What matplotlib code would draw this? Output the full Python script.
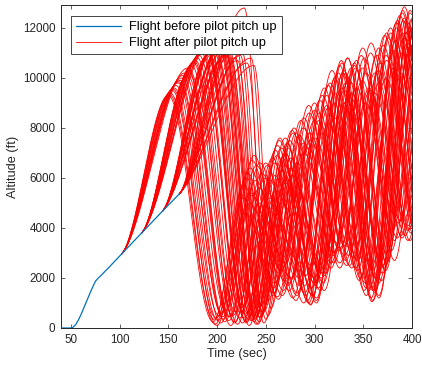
import numpy as np
import matplotlib
matplotlib.use("Agg")
import matplotlib.pyplot as plt

# ---------------- data ----------------
# flight before pilot pitch up (blue)
blue_t = [40, 50, 52, 55, 58, 61, 64, 67, 70, 73, 75.5, 78, 82, 90, 102.4, 122.7, 144, 161.5]
blue_alt = [0, 0, 20, 130, 330, 580, 860, 1140, 1420, 1680, 1880, 1990, 2140, 2460, 2970, 3800, 4670, 5370]

# flight after pilot pitch up (red): one row per trajectory
# columns: branch time, 1st peak time, 1st peak alt, 1st trough time, 1st trough alt,
#          half period, then later extrema altitudes (peak, trough, peak, trough, peak, trough, peak, trough)
group1 = [
    [102.4, 150, 9300, 196, 250, 31.0, 5200, 1400, 8400, 2600, 10800, 3500, 12800, 5000],
    [102.4, 151, 9350, 197, 350, 30.5, 5700, 1600, 8000, 2900, 10400, 3900, 12300, 5000],
    [102.4, 152, 9400, 198, 150, 32.0, 6000, 1250, 8900, 2400, 11400, 3600, 13000, 5000],
    [102.4, 154, 9500, 199, 400, 30.0, 4600, 1800, 7400, 3000, 9900, 4000, 12000, 5500],
    [102.4, 155, 9550, 200, 100, 31.5, 6200, 1150, 8600, 2600, 11000, 3700, 12800, 5000],
    [102.4, 156, 9600, 201, 300, 33.0, 6400, 1300, 8700, 2500, 11200, 3800, 12600, 5000],
    [102.4, 158, 9700, 202, 500, 31.0, 5000, 2200, 7800, 3100, 9500, 4300, 11500, 5500],
    [102.4, 160, 9800, 204, 200, 32.0, 6700, 1500, 9000, 2700, 10900, 3500, 12800, 5000],
    [102.4, 161, 9850, 206, 450, 30.0, 5300, 2300, 7500, 3200, 9600, 4200, 11200, 5000],
    [102.4, 162, 9900, 205, 600, 29.5, 5400, 2500, 7200, 3400, 9000, 4600, 10800, 5500],
    [102.4, 164, 10000, 207, 350, 31.0, 6900, 1900, 8300, 2900, 10200, 3700, 12000, 5000],
    [102.4, 165, 10100, 208, 250, 32.5, 6500, 1700, 9100, 2400, 11300, 3600, 13000, 5000],
    [102.4, 167, 10200, 209, 700, 30.5, 5900, 2600, 7600, 3300, 9400, 4400, 10500, 5500],
    [102.4, 170, 10400, 212, 450, 32.0, 6600, 2000, 9300, 2800, 11700, 3900, 13000, 5000],
]
group2 = [
    [122.7, 170, 10100, 212, 300, 31.0, 5000, 1500, 8600, 2500, 10600, 3500, 12500, 5000],
    [122.7, 171, 10200, 213, 450, 30.5, 5600, 1800, 8300, 2900, 10300, 3900, 12200, 5000],
    [122.7, 172, 10300, 214, 100, 32.0, 6200, 1200, 9600, 2400, 11800, 3600, 13000, 5000],
    [122.7, 174, 10500, 216, 500, 30.0, 4500, 2000, 7800, 3200, 9800, 4100, 11500, 5000],
    [122.7, 176, 10600, 218, 250, 31.5, 6000, 1100, 9300, 2300, 11600, 3800, 13000, 5000],
    [122.7, 177, 10650, 218, 200, 32.0, 6600, 1300, 9700, 1900, 12000, 3600, 13000, 5000],
    [122.7, 178, 10700, 219, 650, 33.0, 5400, 1700, 10300, 1500, 12200, 4000, 13000, 5000],
    [122.7, 180, 10800, 221, 150, 30.5, 6500, 1400, 8900, 2800, 10900, 3700, 12000, 5000],
    [122.7, 182, 10900, 223, 400, 31.0, 5200, 2300, 9800, 2000, 11800, 4000, 13000, 5000],
    [122.7, 184, 11000, 225, 800, 32.0, 6800, 1000, 10000, 1300, 12300, 3500, 13000, 5000],
    [122.7, 185, 11050, 224, 600, 30.0, 5900, 2000, 8800, 2700, 10700, 4200, 12000, 5000],
    [122.7, 186, 11100, 226, 200, 29.5, 4800, 2600, 8200, 3400, 10000, 4500, 11500, 5000],
    [122.7, 189, 11200, 229, 550, 31.0, 7100, 1300, 10100, 1600, 12000, 3700, 13000, 5000],
    [122.7, 190, 11250, 230, 250, 31.5, 6900, 1100, 10200, 1500, 12500, 3700, 13000, 5000],
    [122.7, 192, 11300, 232, 350, 32.0, 7500, 950, 10600, 1100, 12850, 3500, 13000, 5000],
]
group3 = [
    [144.0, 190, 10900, 228, 400, 31.0, 6600, 1400, 9400, 1800, 11500, 3500, 13000, 5000],
    [144.0, 191, 10950, 229, 300, 30.5, 6100, 1700, 9000, 2000, 11100, 3800, 12800, 5000],
    [144.0, 192, 11000, 230, 200, 32.0, 7300, 1000, 10500, 1200, 12600, 3500, 13000, 5000],
    [144.0, 194, 11100, 231, 600, 30.0, 5500, 2100, 8400, 2600, 10400, 4000, 12000, 5000],
    [144.0, 196, 11200, 233, 100, 31.5, 7600, 920, 10700, 1050, 12700, 3600, 13000, 5000],
    [144.0, 197, 11250, 234, 500, 32.0, 7200, 1300, 10300, 1500, 12300, 3800, 13000, 5000],
    [144.0, 198, 11300, 235, 300, 31.0, 6300, 1600, 9600, 1600, 11800, 4000, 13000, 5000],
    [144.0, 200, 11000, 236, 700, 30.5, 5000, 2500, 8000, 2400, 10200, 4200, 12000, 5000],
    [144.0, 202, 11200, 238, 250, 32.0, 7000, 1200, 10800, 1300, 12700, 3500, 13000, 5000],
    [144.0, 203, 11150, 239, 350, 30.5, 6500, 1800, 9500, 2100, 11600, 4000, 13000, 5000],
    [144.0, 204, 11300, 240, 500, 31.0, 6000, 1900, 9100, 1900, 11400, 4000, 13000, 5000],
    [144.0, 206, 11100, 242, 150, 30.0, 7400, 1100, 10200, 1400, 12400, 3500, 13000, 5000],
    [144.0, 209, 10900, 244, 450, 31.5, 5600, 2200, 8700, 2200, 10800, 4000, 12000, 5000],
    [144.0, 210, 10950, 245, 550, 31.0, 6800, 2000, 9800, 2400, 12000, 4200, 13000, 5000],
    [144.0, 212, 11000, 246, 650, 32.0, 7800, 1500, 10400, 2600, 12800, 4000, 13000, 5000],
]
group4 = [
    [161.5, 203, 11500, 236, 300, 31.0, 6800, 1300, 10200, 1500, 12300, 3500, 13000, 5000],
    [161.5, 206, 11800, 238, 500, 32.0, 7600, 1000, 10800, 1200, 12600, 3500, 13000, 5000],
    [161.5, 207, 11300, 239, 400, 31.0, 7000, 1700, 9800, 2000, 11800, 4000, 13000, 5000],
    [161.5, 209, 11000, 240, 150, 30.0, 5800, 2000, 9000, 2300, 11000, 4000, 12500, 5000],
    [161.5, 212, 10900, 242, 700, 31.0, 7200, 1600, 10000, 1800, 12000, 4000, 13000, 5000],
    [161.5, 213, 11100, 243, 250, 31.5, 7500, 1500, 10400, 1900, 12400, 4000, 13000, 5000],
    [161.5, 215, 11600, 244, 400, 31.5, 6400, 2300, 9400, 2500, 11700, 4000, 13000, 5000],
    [161.5, 218, 10800, 245, 900, 32.0, 7900, 1800, 10600, 2300, 12500, 4000, 13000, 5000],
    [161.5, 219, 11400, 246, 650, 30.5, 6300, 2400, 9200, 2700, 11300, 4300, 13000, 5000],
    [161.5, 221, 10700, 247, 600, 30.0, 6100, 2600, 8800, 2900, 11000, 4500, 12500, 5000],
    [161.5, 224, 10900, 248, 200, 31.0, 8000, 2100, 10500, 2400, 12600, 4000, 13000, 5000],
    [161.5, 226, 11000, 250, 350, 31.0, 7800, 2200, 10700, 2600, 12700, 4200, 13000, 5000],
    [161.5, 228, 12800, 252, 500, 32.5, 7700, 2400, 11200, 2700, 13000, 4500, 13000, 5000],
    [161.5, 231, 10600, 252, 1100, 30.5, 6600, 2800, 9600, 3000, 11800, 4500, 13000, 5000],
    [161.5, 235, 10800, 255, 800, 31.0, 8300, 2600, 10900, 3100, 13000, 4500, 13000, 5000],
    [161.5, 238, 10500, 257, 1300, 32.0, 7000, 3000, 10200, 3600, 12500, 4500, 13000, 5000],
]
red_rows = group1 + group2 + group3 + group4

T_END = 400.0
legend_labels = ["Flight before pilot pitch up", "Flight after pilot pitch up"]

# ---------------- curve construction ----------------
bt = np.array(blue_t, float)
ba = np.array(blue_alt, float)
climb_rate = (ba[-1] - ba[-4]) / (bt[-1] - bt[-4])


def hermite(t, t0, t1, y0, y1, m0, m1):
    d = t1 - t0
    s = (t - t0) / d
    h00 = 2 * s**3 - 3 * s**2 + 1
    h10 = s**3 - 2 * s**2 + s
    h01 = -2 * s**3 + 3 * s**2
    h11 = s**3 - s**2
    return h00 * y0 + h10 * d * m0 + h01 * y1 + h11 * d * m1


def trajectory(row):
    t0, tp1, hp1, tt1, lt1, half = row[:6]
    later = row[6:]
    a0 = float(np.interp(t0, bt, ba))
    ts, ys = [], []
    t = np.linspace(t0, tp1, 120)
    ts.append(t); ys.append(hermite(t, t0, tp1, a0, hp1, climb_rate, 0.0))
    knots_t = [tp1, tt1]
    knots_y = [hp1, lt1]
    for k, v in enumerate(later):
        knots_t.append(tt1 + (k + 1) * half)
        knots_y.append(v)
    for i in range(len(knots_t) - 1):
        ta, tb = knots_t[i], knots_t[i + 1]
        if ta >= T_END:
            break
        ya, yb = knots_y[i], knots_y[i + 1]
        t = np.linspace(ta, tb, 80)
        y = ya + (yb - ya) * (1 - np.cos(np.pi * (t - ta) / (tb - ta))) / 2
        ts.append(t[1:]); ys.append(y[1:])
    t = np.concatenate(ts); y = np.concatenate(ys)
    m = t <= T_END
    return t[m], y[m]


# ---------------- plotting ----------------
plt.rcParams['font.family'] = ['Liberation Sans', 'DejaVu Sans']
fig = plt.figure(figsize=(4.22, 3.66), dpi=100)
ax = fig.add_axes([61 / 422, 38 / 366, 351 / 422, 323 / 366])

red_handle = None
for row in red_rows:
    t, y = trajectory(row)
    (red_handle,) = ax.plot(t, y, color='#ff0000', lw=0.6, zorder=2)
(blue_handle,) = ax.plot(bt, ba, color='#0072BD', lw=0.9, zorder=3)

ax.set_xlim(40, 400)
ax.set_ylim(0, 12920)
ax.set_xticks(np.arange(50, 401, 50))
ax.set_yticks(np.arange(0, 12001, 2000))
dark = '#262626'
ax.tick_params(direction='in', top=True, right=True, length=2.6, width=0.5,
               colors=dark, labelsize=8.4, pad=4)
for sp in ax.spines.values():
    sp.set_color(dark)
    sp.set_linewidth(0.7)
ax.set_xlabel('Time (sec)', fontsize=9.2, color=dark, labelpad=2)
ax.set_ylabel('Altitude (ft)', fontsize=9.2, color=dark, labelpad=3)

leg = ax.legend([blue_handle, red_handle], legend_labels, loc='upper left',
                bbox_to_anchor=(0.028, 0.966), borderaxespad=0, fontsize=9.3,
                handlelength=3.5, handletextpad=0.6, labelspacing=0.3,
                borderpad=0.4, fancybox=False, framealpha=1, edgecolor=dark)
leg.get_frame().set_linewidth(0.6)
leg.set_zorder(5)

fig.savefig('out.png', dpi=100)
